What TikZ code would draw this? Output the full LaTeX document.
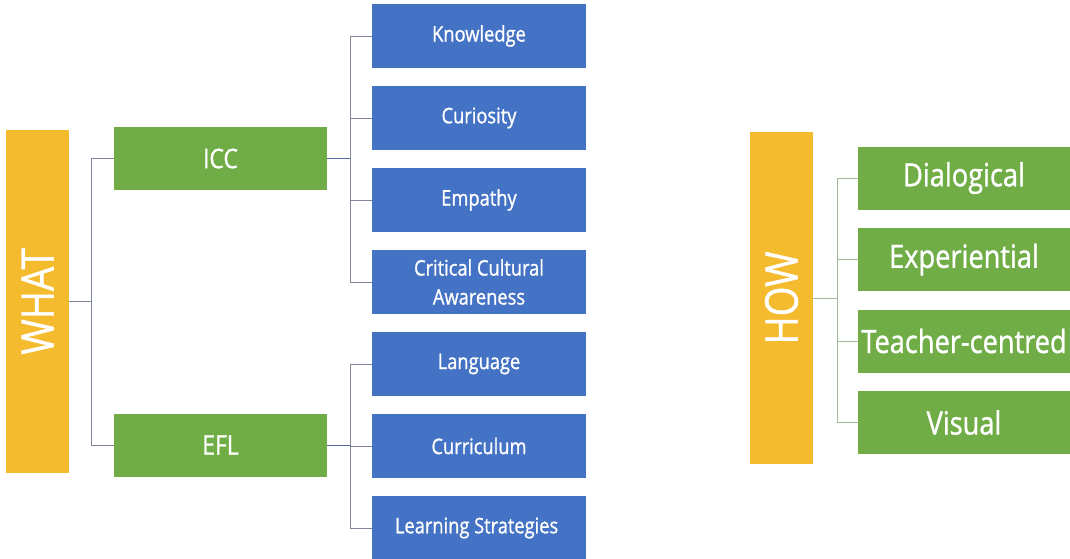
\documentclass[tikz,border=0pt]{standalone}
\usepackage{fontspec}
\setmainfont{Open Sans}[FakeStretch=0.85,FakeBold=1]
\usetikzlibrary{positioning}
\definecolor{barorange}{HTML}{F5BB2E}
\definecolor{boxgreen}{HTML}{70AD47}
\definecolor{boxblue}{HTML}{4472C4}
\definecolor{linkgray}{HTML}{7E8799}
\definecolor{linkblue}{HTML}{5468A6}
\definecolor{linkgreen}{HTML}{A3B894}

\begin{document}
\begin{tikzpicture}[x=1pt,y=-1pt,
  bar/.style={fill=barorange,text=white,rotate=90,inner sep=0pt,minimum height=63pt,
    font=\fontsize{45}{45}\selectfont},
  midbox/.style={fill=boxgreen,text=white,inner sep=0pt,minimum width=213pt,minimum height=63pt,
    font=\fontsize{27}{27}\selectfont},
  subbox/.style={fill=boxblue,text=white,inner sep=0pt,minimum width=214pt,minimum height=64pt,
    align=center,font=\fontsize{21.5}{29}\selectfont},
  howbox/.style={fill=boxgreen,text=white,inner sep=0pt,minimum width=212pt,minimum height=63pt,
    font=\fontsize{32}{32}\selectfont},
  link/.style={line width=0.8pt}]
\useasboundingbox (0,0) rectangle (1070,559);

% what side
\node[bar,minimum width=343pt](what) at (37.5,301.5) {WHAT};
\node[midbox](icc) at (220.5,158.5) {ICC};
\node[midbox](efl) at (220.5,445) {EFL};
\foreach \t[count=\i] in {
  Knowledge,
  Curiosity,
  Empathy,
  {Critical Cultural\\Awareness},
  Language,
  Curriculum,
  Learning Strategies
}
\node[subbox](b\i) at (479,{36+82*(\i-1)}) {\t};

\draw[link,linkgray] (what.south) -- ++(22,0) coordinate (wj);
\draw[link,linkgray] (wj) |- (icc.west);
\draw[link,linkgray] (wj) |- (efl.west);
\draw[link,linkblue] (icc.east) -- ++(23,0) coordinate (ij);
\draw[link,linkblue] (efl.east) -- ++(23,0) coordinate (ej);
\foreach \i in {1,...,4}
  \draw[link,linkgray] (ij) |- (b\i.west);
\foreach \i in {5,6,7}
  \draw[link,linkgray] (ej) |- (b\i.west);

% how side
\node[bar,minimum width=332pt](how) at (781.5,298) {HOW};
\foreach \t[count=\i] in {
  Dialogical,
  Experiential,
  Teacher-centred,
  Visual
}
\node[howbox](g\i) at (964,{178+81.5*(\i-1)}) {\t};

\draw[link,linkgreen] (how.south) -- ++(24,0) coordinate (hj);
\foreach \i in {1,...,4}
  \draw[link,linkgreen] (hj) |- (g\i.west);
\end{tikzpicture}
\end{document}
